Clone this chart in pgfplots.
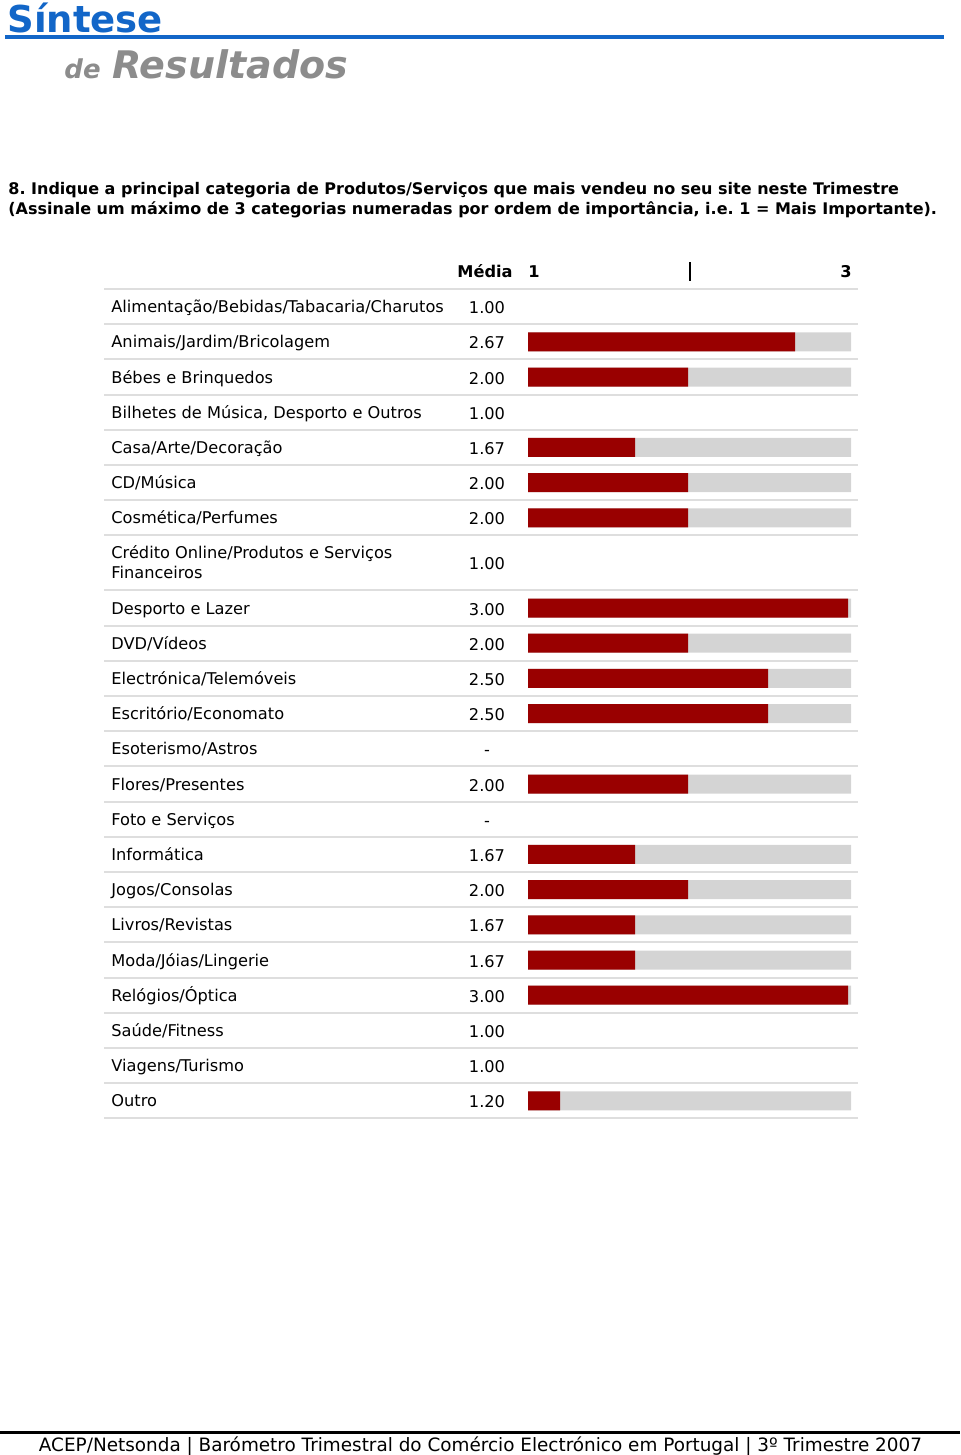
\documentclass[border=0pt]{standalone}
\usepackage{fontspec}
\setmainfont{DejaVu Sans}
\usepackage{pgfplots}
\pgfplotsset{compat=1.18}
\frenchspacing

\definecolor{barRed}{RGB}{153,0,0}
\definecolor{barGray}{RGB}{212,212,212}
\definecolor{rule}{RGB}{222,222,222}
\definecolor{titleBlue}{RGB}{18,102,200}
\definecolor{titleGray}{RGB}{140,140,140}

% row position (in rows, 0 = top rule), mean
\pgfplotstableread{
pos v
0.5 1.00
1.5 2.67
2.5 2.00
3.5 1.00
4.5 1.67
5.5 2.00
6.5 2.00
7.78125 1.00
9.0625 3.00
10.0625 2.00
11.0625 2.50
12.0625 2.50
14.0625 2.00
16.0625 1.67
17.0625 2.00
18.0625 1.67
19.0625 1.67
20.0625 3.00
21.0625 1.00
22.0625 1.00
23.0625 1.20
}\means

% scale background: full range 1..3
\pgfplotstableread{
pos v
1.5 3.02
2.5 3.02
4.5 3.02
5.5 3.02
6.5 3.02
9.0625 3.02
10.0625 3.02
11.0625 3.02
12.0625 3.02
14.0625 3.02
16.0625 3.02
17.0625 3.02
18.0625 3.02
19.0625 3.02
20.0625 3.02
23.0625 3.02
}\scalebg

\newcommand{\rowfont}{\fontsize{8.1}{10}\selectfont}

\begin{document}
\begin{tikzpicture}[x=0.5pt,y=-0.5pt]
\path[use as bounding box] (0,0) rectangle (960,1455);

% heading
\node[anchor=base west,inner sep=0pt,text=titleBlue,font=\bfseries\fontsize{18.5}{20}\selectfont] at (7,33) {Síntese};
\draw[titleBlue,line width=2pt] (5,37.5) -- (944,37.5);
\node[anchor=base west,inner sep=0pt,text=titleGray,font=\bfseries\itshape\fontsize{13}{14}\selectfont] at (64,79) {de};
\node[anchor=base west,inner sep=0pt,text=titleGray,font=\bfseries\itshape\fontsize{19}{20}\selectfont] at (112,79) {Resultados};

% question
\node[anchor=base west,inner sep=0pt,font=\bfseries\fontsize{8}{10}\selectfont] at (8,195)
  {8. Indique a principal categoria de Produtos/Serviços que mais vendeu no seu site neste Trimestre};
\node[anchor=base west,inner sep=0pt,font=\bfseries\fontsize{8}{10}\selectfont] at (8,214)
  {(Assinale um máximo de 3 categorias numeradas por ordem de importância, i.e. 1 = Mais Importante).};

% table header
\node[anchor=base east,inner sep=0pt,font=\rowfont\bfseries] at (513,278) {Média};
\node[anchor=base,inner sep=0pt,font=\rowfont\bfseries] at (534,278) {1};
\node[anchor=base,inner sep=0pt,font=\rowfont\bfseries] at (846,278) {3};
\draw[line width=0.8pt] (690,262) -- (690,281);

% row rules
\foreach \y in {289,324.2,359.4,394.6,429.8,465,500.2,535.4,590.4,625.6,660.8,696,731.2,766.4,801.6,836.8,872,907.2,942.4,977.6,1012.8,1048,1083.2,1118.4}
  \draw[rule,line width=1pt] (104,\y) -- (858,\y);

% mean column
\foreach \y/\t in {306.6/1.00,341.8/2.67,377/2.00,412.2/1.00,447.4/1.67,482.6/2.00,517.8/2.00,562.9/1.00,608/3.00,643.2/2.00,678.4/2.50,713.6/2.50,748.8/-,784/2.00,819.2/-,854.4/1.67,889.6/2.00,924.8/1.67,960/1.67,995.2/3.00,1030.4/1.00,1065.6/1.00,1100.8/1.20}
  \node[anchor=base,inner sep=0pt,font=\rowfont] at (487,\y+7) {\t};

\begin{axis}[
    at={(264pt,-144.5pt)}, anchor=north west,
    x=80pt, y=17.6pt, y dir=reverse,
    xmin=1, xmax=3.02, ymin=0, ymax=23.5625,
    axis line style={draw=none},
    tick style={draw=none},
    xtick=\empty,
    ytick={0.5,1.5,2.5,3.5,4.5,5.5,6.5,7.78125,9.0625,10.0625,11.0625,12.0625,13.0625,14.0625,15.0625,16.0625,17.0625,18.0625,19.0625,20.0625,21.0625,22.0625,23.0625},
    yticklabels={Alimentação/Bebidas/Tabacaria/Charutos,Animais/Jardim/Bricolagem,Bébes e Brinquedos,{Bilhetes de Música, Desporto e Outros},Casa/Arte/Decoração,CD/Música,Cosmética/Perfumes,{Crédito Online/Produtos e Serviços\\Financeiros},Desporto e Lazer,DVD/Vídeos,Electrónica/Telemóveis,Escritório/Economato,Esoterismo/Astros,Flores/Presentes,Foto e Serviços,Informática,Jogos/Consolas,Livros/Revistas,Moda/Jóias/Lingerie,Relógios/Óptica,Saúde/Fitness,Viagens/Turismo,Outro},
    yticklabel style={font=\rowfont, anchor=west, align=left, inner sep=0pt,
      xshift=-208.5pt, yshift=-1pt,
      execute at begin node=\strut, execute at end node=\strut},
]
\addplot[xbar, bar width=9.5pt, bar shift=0pt, fill=barGray, draw=none] table[x=v,y=pos] {\scalebg};
\addplot[xbar, bar width=9.5pt, bar shift=0pt, fill=barRed, draw=none,
    restrict x to domain=1.001:3.5] table[x=v,y=pos] {\means};
\end{axis}

% footer
\draw[line width=1.5pt] (0,1432) -- (960,1432);
\node[anchor=base,inner sep=0pt,font=\fontsize{9.2}{10}\selectfont] at (480.5,1451)
  {ACEP/Netsonda | Barómetro Trimestral do Comércio Electrónico em Portugal | 3º Trimestre 2007};
\end{tikzpicture}
\end{document}
